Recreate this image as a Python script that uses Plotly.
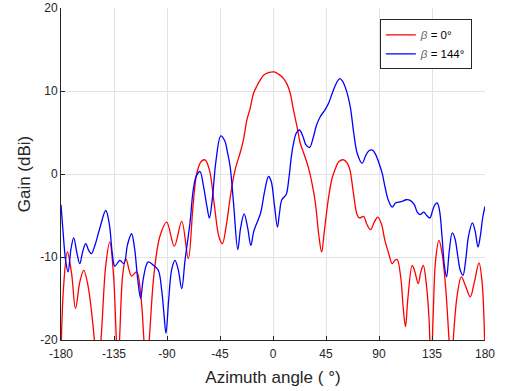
import plotly.graph_objects as go

# beta = 0 deg (red)
ang_red = [-180, -178, -174.6, -171, -167.7, -164, -160.7, -157, -153, -151, -148.5, -145.6, -142, -138.6,
           -135.5, -133, -131.5, -130, -127.5, -124.9, -120.1, -115.8, -112, -109.6, -107.5, -105.1, -101,
           -96, -90.3, -83.8, -77.5, -71.9, -68, -64.8, -61, -57.7, -54, -50, -46, -43, -40, -36, -32.2,
           -28, -25.1, -22.2, -19.4, -16.6, -13.7, -10.9, -8, -4, 1, 5, 9, 12, 14.7, 17, 20.4, 23, 26.1,
           30, 33.1, 36, 39, 41.3, 43.5, 46.9, 50, 52.6, 56, 60.2, 63, 65.3, 68, 71.4, 73.5, 77, 79.5,
           82.7, 86, 88.9, 92, 95, 98.3, 101.2, 103.5, 105.4, 108.5, 110.5, 112.5, 114.5, 118.2, 120.5,
           123.3, 125.5, 127.6, 130, 132.5, 134.2, 136, 138, 140.9, 143.5, 146.5, 149.5, 151.5, 153.5,
           156.5, 159.9, 163.5, 167.5, 171, 174.9, 177.5, 180]
gain_red = [-22, -14, -9.4, -12, -16.2, -13, -11.6, -13.5, -18, -21, -24, -19, -11, -8.2,
            -12, -20, -24, -19, -12, -10.2, -12.3, -11.8, -15, -20, -24, -20, -12,
            -7.5, -5.8, -8.7, -5.7, -10.2, -4, 0, 1.5, 1.7, 0.5, -3.5, -7.5, -8.4, -6.5, -2.5, 0.5,
            2.5, 4.1, 6.5, 7.9, 9.7, 10.6, 11.3, 11.9, 12.2, 12.3, 12.0, 11.5, 10.8, 9.7, 8, 5.7, 3.8, 2.5,
            0.8, -1.1, -3.5, -7.5, -9.4, -7, -3.1, -0.6, 0.5, 1.5, 1.7, 1.3, 0.5, -2, -4.9, -5.3, -5.1, -6,
            -6.7, -5.8, -5.2, -6, -8, -9.6, -10.8, -10.4, -10.3, -12.5, -16, -18.4, -15, -11, -11.8,
            -13.2, -11.8, -11, -13, -17.5, -24, -17, -10.5, -8, -9.5, -13.5, -20, -24, -19,
            -14.5, -12.4, -13.5, -14.8, -13, -10.7, -13, -22]

# beta = 144 deg (blue)
ang_blue = [-180, -178.5, -176, -174, -171.5, -169.2, -166.5, -164.1, -161.5, -159, -156.5, -154.1, -151,
            -147, -142, -139, -136.5, -134.3, -130, -126.6, -123.5, -120.1, -117.5, -115, -112.4, -110,
            -106, -101.5, -97.4, -94.5, -92.5, -90.9, -88.5, -86, -83.2, -80.5, -77.5, -74.7, -70.5,
            -67.7, -65, -62, -59, -56, -54, -51.5, -48.5, -44.3, -41, -38.5, -36.4, -33.5, -29.9, -27.5,
            -24.5, -21.5, -18.8, -16.5, -13.7, -10.5, -7, -3.8, -1.5, 1, 3.8, 5.5, 7.5, 11.1, 13.5, 15.5,
            17.4, 20, 22.5, 25.5, 28, 31, 34, 37, 40.1, 44, 47.1, 50.5, 54, 56.6, 59, 62, 65.6, 68.5,
            71.5, 75.6, 79, 81.5, 84.1, 87, 90, 92.7, 95, 98, 101.2, 104, 106.5, 109.7, 113, 116.8, 120,
            122.5, 124.7, 128.1, 130.5, 133.2, 135.5, 137.5, 139.5, 141.5, 143.5, 145.5, 147.4, 149.5,
            152.2, 154.5, 157, 159, 161.3, 163.5, 166, 169.3, 171.5, 174.1, 176, 178, 180]
gain_blue = [-3.7, -6.5, -10.5, -11.8, -9, -7.7, -9.5, -10.8, -9.3, -8.4, -9.2, -9.6, -8.5,
             -6.5, -4.4, -6, -9.5, -11.1, -10.4, -10.8, -8.5, -7.2, -9, -12.5, -15, -12.5,
             -10.6, -11, -11.6, -14, -17, -19.2, -15, -11.5, -10.4, -11.5, -13.8, -10.4, -5.9,
             -1.9, -0.2, 0.3, -1.5, -4, -5.3, -3, 1.5, 4.6, 4, 2.5, 0.9, -3.5, -9.1, -6.5,
             -4.8, -6.5, -8.6, -7, -5.9, -4.7, -2, -0.3, -0.9, -3.5, -6.4, -4.7, -3.1, -2.5, -0.5, 2,
             3.7, 5, 5.3, 4.5, 3.5, 3.2, 4.3, 5.9, 6.9, 7.7, 8.5, 9.8, 11, 11.5, 11.2, 10.2, 8.1, 5,
             2.5, 1.3, 2.3, 2.8, 2.9, 2.4, 1.3, 0.1, -1.5, -3.2, -4, -3.5, -3.4, -3.3, -3.1, -3.2, -3.7,
             -4.6, -4.9, -4.6, -5, -5.3, -4.4, -3.7, -3.5, -4.5, -7.5, -11, -12.4, -9.5,
             -7.1, -7.8, -10, -11.6, -12.2, -10.5, -7.5, -5.9, -6.8, -8.8, -7.5, -5.3, -3.9]

x_ticks = [-180, -135, -90, -45, 0, 45, 90, 135, 180]
y_ticks = [-20, -10, 0, 10, 20]

FONT = "Liberation Sans, Arial, Helvetica, sans-serif"
AX = "#262626"

fig = go.Figure()
fig.add_trace(go.Scatter(x=ang_red, y=gain_red, mode="lines",
                         name="<i><span style='color:#666666'>β</span></i> = 0°",
                         line=dict(color="#ff0000", width=1.3, shape="spline", smoothing=1)))
fig.add_trace(go.Scatter(x=ang_blue, y=gain_blue, mode="lines",
                         name="<i><span style='color:#666666'>β</span></i> = 144°",
                         line=dict(color="#0000ff", width=1.3, shape="spline", smoothing=1)))

fig.update_layout(
    width=505, height=391,
    margin=dict(l=61, r=20, t=8, b=51),
    paper_bgcolor="white", plot_bgcolor="white",
    font=dict(family=FONT, color=AX, size=12),
    legend=dict(x=0.969, y=0.966, xanchor="right", yanchor="top",
                bgcolor="white", bordercolor="#262626", borderwidth=1,
                font=dict(size=11.5, color="#000000"), tracegroupgap=0,
                itemwidth=30),
    showlegend=True,
)
fig.update_xaxes(range=[-180, 180], tickvals=x_ticks, ticktext=[str(v) for v in x_ticks],
                 ticks="inside", ticklen=4, tickcolor=AX, showline=True, linecolor=AX, linewidth=1,
                 showgrid=True, gridcolor="#e3e3e3", gridwidth=1, zeroline=False,
                 tickfont=dict(size=12, color=AX), automargin=False, ticklabelstandoff=3,
                 title=dict(text="Azimuth angle ( °)", font=dict(size=17, color=AX), standoff=10))
fig.update_yaxes(range=[-20, 20], tickvals=y_ticks, ticktext=[str(v) for v in y_ticks],
                 ticks="inside", ticklen=4, tickcolor=AX, showline=True, linecolor=AX, linewidth=1,
                 showgrid=True, gridcolor="#e3e3e3", gridwidth=1, zeroline=False,
                 tickfont=dict(size=12, color=AX), automargin=False,
                 title=dict(text="Gain (dBi)", font=dict(size=17, color=AX), standoff=5))

fig.write_html("out.html")
